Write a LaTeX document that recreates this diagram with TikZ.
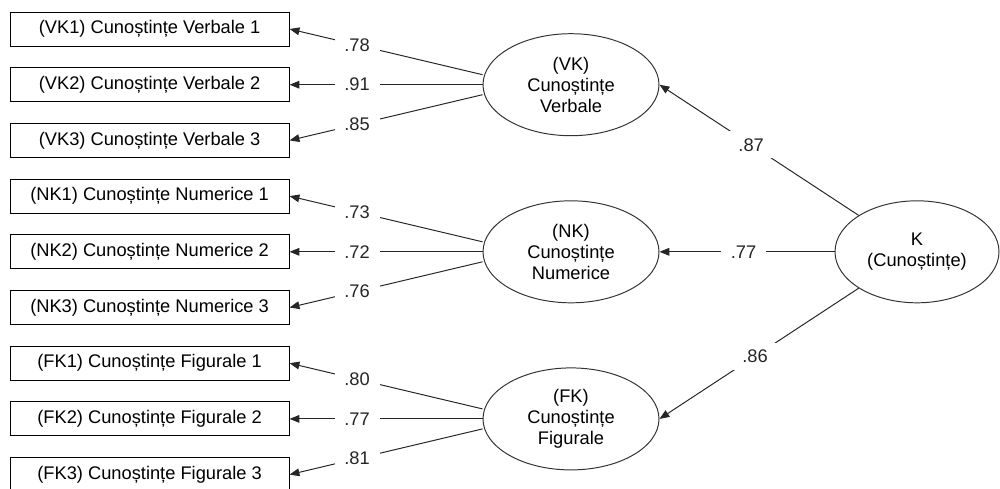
\documentclass[tikz,border=0pt]{standalone}
\usepackage{fontspec}
\setmainfont{Liberation Sans}
\usetikzlibrary{arrows.meta, shapes.geometric, calc}

\begin{document}
\begin{tikzpicture}[
    indicator/.style={
        rectangle,
        draw=black,
        line width=0.7pt,
        minimum width=6.975cm,
        minimum height=0.85cm,
        inner sep=0pt,
        font=\fontsize{13}{15}\selectfont
    },
    factor/.style={
        ellipse,
        draw=black!80,
        line width=0.7pt,
        minimum width=#1,
        minimum height=2.55cm,
        inner sep=0pt,
        align=center,
        font=\fontsize{13}{15}\selectfont
    },
    factor/.default=4.4cm,
    loading/.style={
        fill=white,
        inner xsep=7pt,
        inner ysep=5pt,
        font=\fontsize{13}{15}\selectfont
    },
    path/.style={
        -{Triangle[length=7pt, width=5.5pt]},
        line width=0.7pt,
        black!85
    }
]

\useasboundingbox (0,0) rectangle (25,-12.2);

% Indicators
\node[indicator] (VK1) at (3.74,-0.725) {(VK1) Cunoștințe Verbale 1};
\node[indicator] (VK2) at (3.74,-2.1175) {(VK2) Cunoștințe Verbale 2};
\node[indicator] (VK3) at (3.74,-3.51) {(VK3) Cunoștințe Verbale 3};

\node[indicator] (NK1) at (3.74,-4.9025) {(NK1) Cunoștințe Numerice 1};
\node[indicator] (NK2) at (3.74,-6.295) {(NK2) Cunoștințe Numerice 2};
\node[indicator] (NK3) at (3.74,-7.6875) {(NK3) Cunoștințe Numerice 3};

\node[indicator] (FK1) at (3.74,-9.08) {(FK1) Cunoștințe Figurale 1};
\node[indicator] (FK2) at (3.74,-10.4725) {(FK2) Cunoștințe Figurale 2};
\node[indicator] (FK3) at (3.74,-11.865) {(FK3) Cunoștințe Figurale 3};

% First order factors
\node[factor] (VK) at (14.275,-2.1175) {(VK)\\Cunoștințe\\Verbale};
\node[factor] (NK) at (14.275,-6.295) {(NK)\\Cunoștințe\\Numerice};
\node[factor] (FK) at (14.275,-10.4725) {(FK)\\Cunoștințe\\Figurale};

% Second order factor
\node[factor=4.1cm] (K) at (22.925,-6.295) {K\\(Cunoștințe)};

% Loadings on indicators
\draw[path] ([yshift=0.25cm]VK.west) -- node[loading, pos=.65] {.78} (VK1.east);
\draw[path] (VK.west) -- node[loading, pos=.65] {.91} (VK2.east);
\draw[path] ([yshift=-0.25cm]VK.west) -- node[loading, pos=.65] {.85} (VK3.east);

\draw[path] ([yshift=0.25cm]NK.west) -- node[loading, pos=.65] {.73} (NK1.east);
\draw[path] (NK.west) -- node[loading, pos=.65] {.72} (NK2.east);
\draw[path] ([yshift=-0.25cm]NK.west) -- node[loading, pos=.65] {.76} (NK3.east);

\draw[path] ([yshift=0.25cm]FK.west) -- node[loading, pos=.65] {.80} (FK1.east);
\draw[path] (FK.west) -- node[loading, pos=.65] {.77} (FK2.east);
\draw[path] ([yshift=-0.25cm]FK.west) -- node[loading, pos=.65] {.81} (FK3.east);

% Loadings on factors
\draw[path] (K.north west) -- node[loading, pos=.54] {.87} (VK.east);
\draw[path] (K.west) -- node[loading, pos=.52] {.77} (NK.east);
\draw[path] (K.south west) -- node[loading, pos=.52] {.86} (FK.east);

\end{tikzpicture}
\end{document}
